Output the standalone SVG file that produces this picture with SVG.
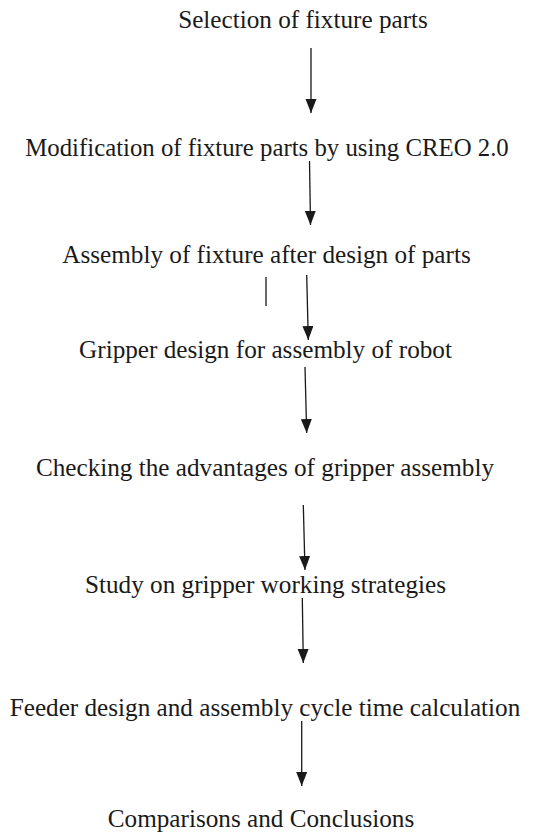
<svg xmlns="http://www.w3.org/2000/svg" width="542" height="832" viewBox="0 0 542 832">
<style>
.t{font-family:'Liberation Serif',serif;font-size:25.2px;fill:#1a1a1a;text-anchor:middle}
.c{stroke:#1a1a1a;stroke-width:1.3;fill:none}
</style>
<defs>
<marker id="ah" markerUnits="userSpaceOnUse" markerWidth="16" markerHeight="12" refX="14" refY="5.5" orient="auto">
<path d="M0,0 L14,5.5 L0,11 Z" fill="#1a1a1a"/>
</marker>
</defs>
<rect width="542" height="832" fill="#fff"/>
<g id="n1"><text class="t" x="303" y="28">Selection of fixture parts</text></g>
<g id="n2"><text class="t" x="267" y="156" style="font-size:24.8px">Modification of fixture parts by using CREO 2.0</text></g>
<g id="n3"><text class="t" x="266.5" y="263">Assembly of fixture after design of parts</text></g>
<g id="n4"><text class="t" x="265.5" y="358">Gripper design for assembly of robot</text></g>
<g id="n5"><text class="t" x="265" y="476">Checking the advantages of gripper assembly</text></g>
<g id="n6"><text class="t" x="265.5" y="593">Study on gripper working strategies</text></g>
<g id="n7"><text class="t" x="265" y="716">Feeder design and assembly cycle time calculation</text></g>
<g id="n8"><text class="t" x="261" y="827">Comparisons and Conclusions</text></g>
<g id="connectors">
<line class="c" x1="311" y1="48" x2="311" y2="113" marker-end="url(#ah)"/>
<line class="c" x1="309.5" y1="161" x2="310.5" y2="225" marker-end="url(#ah)"/>
<line class="c" x1="306.7" y1="275" x2="308.3" y2="340" marker-end="url(#ah)"/>
<line class="c" x1="266" y1="277" x2="266" y2="306"/>
<line class="c" x1="305" y1="367" x2="306.7" y2="433" marker-end="url(#ah)"/>
<line class="c" x1="303.3" y1="505" x2="305" y2="570" marker-end="url(#ah)"/>
<line class="c" x1="302.3" y1="598" x2="303.3" y2="663" marker-end="url(#ah)"/>
<line class="c" x1="301.7" y1="721" x2="301.7" y2="786" marker-end="url(#ah)"/>
</g>
</svg>
